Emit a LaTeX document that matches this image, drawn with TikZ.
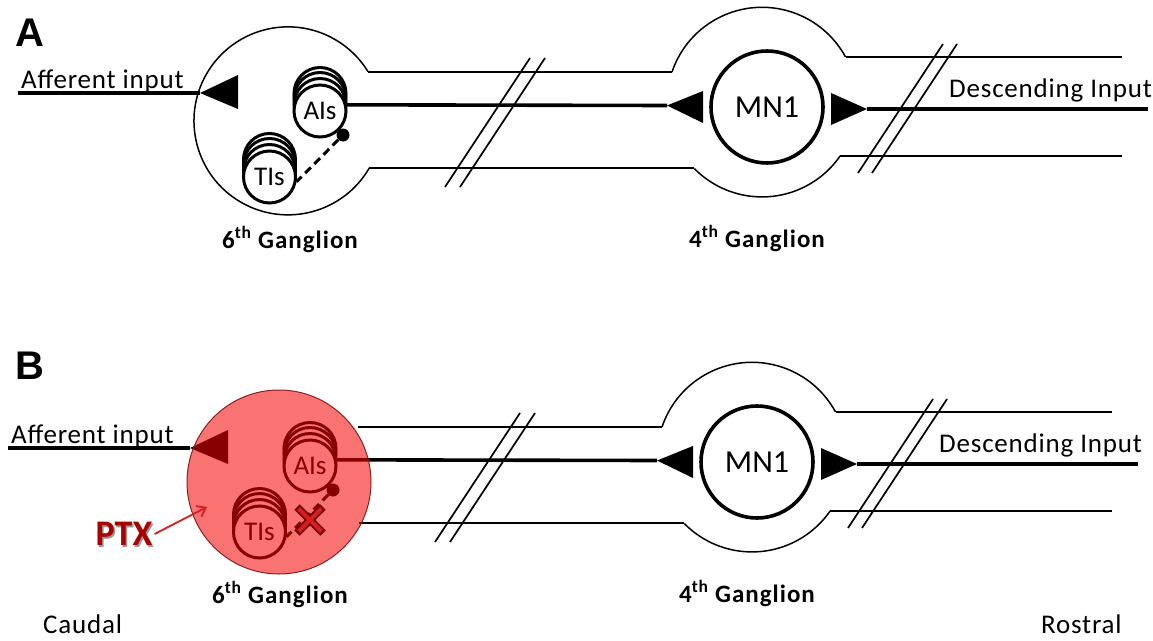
\documentclass[tikz,border=0pt]{standalone}
\usepackage{fontspec}
\setmainfont{Carlito}
\newfontfamily\panelfont{Liberation Sans}
\usetikzlibrary{arrows.meta}
\definecolor{ovl}{RGB}{245,0,0}
\definecolor{ptxred}{RGB}{170,0,0}
\definecolor{xred}{RGB}{215,30,30}
\definecolor{xdark}{RGB}{110,0,0}
\definecolor{rimc}{RGB}{140,30,30}
\newcommand\fsz[1]{\fontsize{#1}{#1}\selectfont}
\tikzset{
  tube/.style={line width=1.5pt},
  axon/.style={line width=3.6pt},
  brk/.style={line width=1.7pt},
  cellc/.style={circle, draw, line width=3pt, fill=white, minimum size=52pt, inner sep=0pt, font=\fsz{27}},
  mncell/.style={circle, draw, line width=3.6pt, minimum size=112pt, inner sep=0pt, font=\fsz{32}},
  lab/.style={inner sep=0pt, font=\fsz{27}\addfontfeatures{LetterSpace=3}},
  glab/.style={inner sep=0pt, anchor=base, font=\fsz{25}\bfseries\addfontfeatures{LetterSpace=4}},
  plab/.style={inner sep=0pt, font=\fsz{40}\panelfont\bfseries},
  inhib/.style={line width=3pt, dash pattern=on 8pt off 5pt},
  dotc/.style={circle, fill, minimum size=13pt, inner sep=0pt},
}
\newcommand\panel[1]{%
  \coordinate (t6t#1) at (368.1,72);
  \coordinate (t6b#1) at (369.3,168);
  \coordinate (t4lt#1) at (672,72);
  \coordinate (t4lb#1) at (694.4,168);
  \coordinate (t4rt#1) at (845.5,57);
  \coordinate (t4rb#1) at (840.1,156);
  \coordinate (endrt#1) at (1122,57);
  \coordinate (endrb#1) at (1122,156);
  \draw[tube] (t6t#1) -- (t4lt#1);
  \draw[tube] (t6b#1) -- (t4lb#1);
  \draw[tube] (t4lt#1) arc[start angle=198.6, end angle=331.5, radius=95];
  \draw[tube] (t4rb#1) arc[start angle=34.7, end angle=135.4, radius=95];
  \draw[tube] (t4rt#1) -- (endrt#1);
  \draw[tube] (t4rb#1) -- (endrb#1);
  % breaks
  \draw[brk] (445,187) -- (530,58);
  \draw[brk] (460,187) -- (545,58);
  \draw[brk] (858,173) -- (943,44);
  \draw[brk] (872,173) -- (957,44);
  % cells
  \node[mncell] (mn#1) at (767,107) {MN1};
  \node[cellc] (aisA#1) at (320,93.5) {};
  \node[cellc] (aisB#1) at (320,98.5) {};
  \node[cellc] (aisC#1) at (320,104.5) {};
  \node[cellc] (ais#1) at (320,111) {AIs};
  \node[cellc] (tisA#1) at (269.5,159.5) {};
  \node[cellc] (tisB#1) at (269.5,164.5) {};
  \node[cellc] (tisC#1) at (269.5,170.5) {};
  \node[cellc] (tis#1) at (269.5,177) {TIs};
  % synapses
  \coordinate (tipL#1) at (667,105.5);
  \fill (tipL#1) -- (703,91) -- (703,123) -- cycle;
  \coordinate (tipR#1) at (867,109);
  \fill (831,93) -- (tipR#1) -- (831,125) -- cycle;
  \coordinate (tipA#1) at (200,93);
  \fill (tipA#1) -- (238,75) -- (238,109) -- cycle;
  % axons
  \coordinate (affS#1) at (18,93);
  \draw[axon] (affS#1) -- (tipA#1);
  \draw[axon] (ais#1.13) -- (tipL#1);
  \coordinate (descE#1) at (1148,109);
  \draw[axon] (tipR#1) -- (descE#1);
  \node[dotc] (dot#1) at (343,135) {};
  \draw[inhib] (dot#1) -- (tis#1.-10);
  % labels
  \node[glab] (g6l#1) at (290,248) {6\textsuperscript{th} Ganglion};
  \node[glab] (g4l#1) at (757,247) {4\textsuperscript{th} Ganglion};
  \node[lab, anchor=base west] (aff#1) at (21,88) {Afferent input};
  \node[lab, anchor=base west] (desc#1) at (949,97) {Descending Input};
}
\begin{document}
\begin{tikzpicture}[x=1pt,y=-1pt]
\useasboundingbox (0,0) rectangle (1153,640);
\fill[white] (0,0) rectangle (1153,640);
% ---- panel A
\panel{a}
\draw[tube] (t6ba) arc[start angle=30.1, end angle=328.5, radius=94];
\node[plab] (labA) at (30,33) {A};
% ---- panel B
\begin{scope}[shift={(-10,355)}]
\panel{b}
\end{scope}
\node[plab] (labB) at (30,366) {B};
\node[circle, minimum size=184pt, inner sep=0pt, fill=ovl, fill opacity=0.55, draw=rimc, line width=1pt] (drug) at (279,482) {};
% block cross
\draw[xdark, line width=7.5pt] (297,507) -- (323,533);
\draw[xdark, line width=7.5pt] (323,507) -- (297,533);
\draw[xred, line width=4pt] (298.6,508.6) -- (321.4,531.4);
\draw[xred, line width=4pt] (321.4,508.6) -- (298.6,531.4);
% PTX
\node[font=\fsz{36}\bfseries, text=black, opacity=0.4, inner sep=2pt] (ptxsh) at (125.5,535.5) {PTX};
\node[font=\fsz{36}\bfseries, text=ptxred, inner sep=2pt] (ptx) at (124,534) {PTX};
\coordinate (ptxtip) at (207,507);
\draw[xred, line width=1.8pt, -{Straight Barb[length=8pt,width=12pt]}] (ptx.east) -- (ptxtip);
\node[lab, anchor=base west] (caudal) at (43,633) {Caudal};
\node[lab, anchor=base west] (rostral) at (1041,633) {Rostral};
\end{tikzpicture}
\end{document}
